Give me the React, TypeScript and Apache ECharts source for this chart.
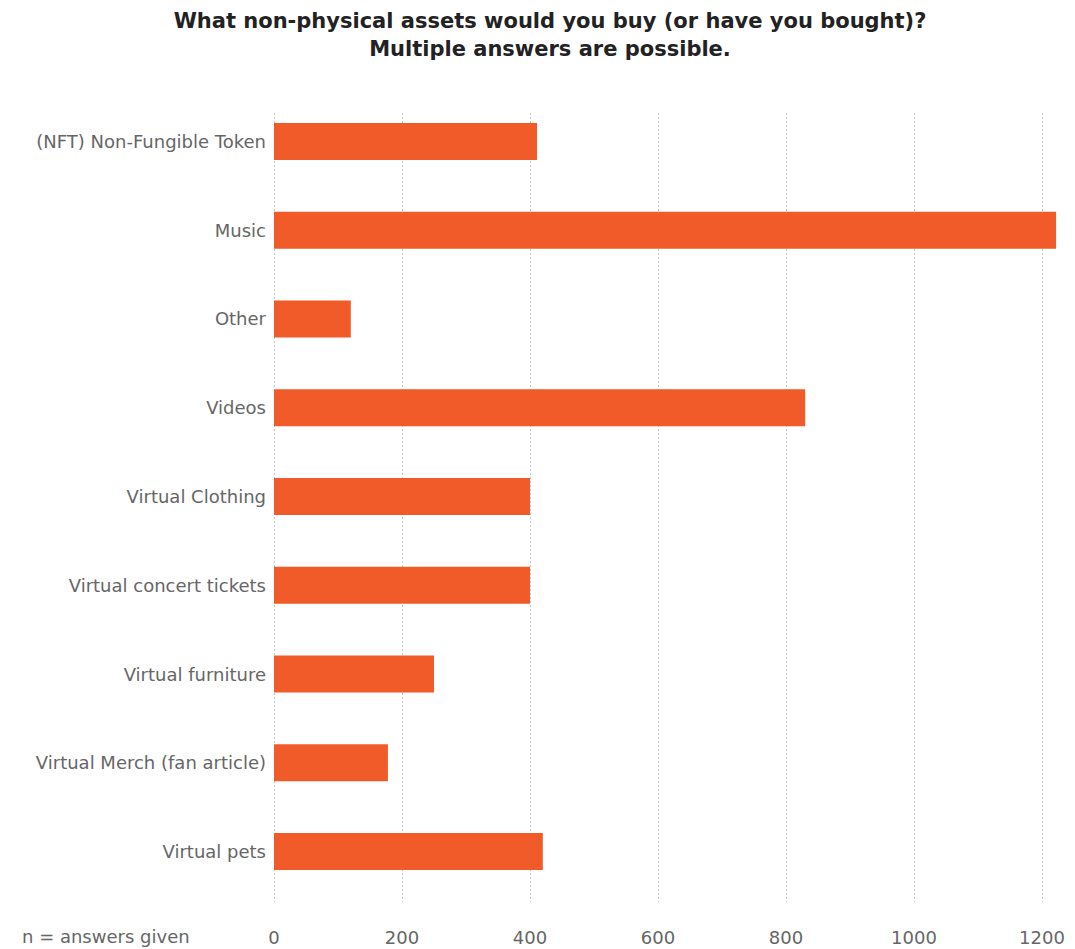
import React, { useEffect, useRef } from "react";
import * as echarts from "echarts";

const categories = [
  "(NFT) Non-Fungible Token",
  "Music",
  "Other",
  "Videos",
  "Virtual Clothing",
  "Virtual concert tickets",
  "Virtual furniture",
  "Virtual Merch (fan article)",
  "Virtual pets",
];
const values = [411, 1222, 120, 830, 400, 400, 250, 178, 420];
const xMin = 0;
const xMax = 1200;
const xInterval = 200;

const FONT = "'DejaVu Sans', 'Noto Sans', sans-serif";

export default function App() {
  const ref = useRef<HTMLDivElement>(null);
  useEffect(() => {
    if (!ref.current) return;
    const chart = echarts.init(ref.current, undefined, { renderer: "svg" });
    chart.setOption({
      animation: false,
      backgroundColor: "#ffffff",
      title: {
        text: "What non-physical assets would you buy (or have you bought)?\nMultiple answers are possible.",
        left: 545,
        textAlign: "center",
        top: 2,
        textStyle: {
          fontFamily: FONT,
          fontWeight: "bold",
          fontSize: 21,
          lineHeight: 28,
          color: "#222222",
        },
      },
      graphic: [
        {
          type: "text",
          left: 22,
          top: 927,
          style: {
            text: "n = answers given",
            fontFamily: FONT,
            fontSize: 18,
            fill: "#666666",
          },
        },
      ],
      grid: [
        { left: 274, right: 33, top: 97, bottom: 53, containLabel: false },
        { left: 274, right: 33, top: 113, bottom: 47, containLabel: false },
      ],
      xAxis: [
        {
          type: "value",
          gridIndex: 0,
          min: xMin,
          max: xMax,
          interval: xInterval,
          axisLine: { show: false },
          axisTick: { show: false },
          splitLine: { show: false },
          axisLabel: { show: false },
        },
        {
          type: "value",
          gridIndex: 1,
          min: xMin,
          max: xMax,
          interval: xInterval,
          axisLine: { show: false },
          axisTick: { show: false },
          splitLine: {
            show: true,
            lineStyle: { color: "#c4c4c4", type: [2, 2], width: 1 },
          },
          axisLabel: {
            show: true,
            margin: 26,
            fontFamily: FONT,
            fontSize: 18,
            color: "#666666",
            formatter: (v: number) => String(v),
          },
        },
      ],
      yAxis: [
        {
          type: "category",
          gridIndex: 0,
          data: categories,
          inverse: true,
          axisLine: { show: false },
          axisTick: { show: false },
          splitLine: { show: false },
          axisLabel: {
            margin: 8,
            fontFamily: FONT,
            fontSize: 18,
            color: "#666666",
          },
        },
        {
          type: "category",
          gridIndex: 1,
          data: categories,
          inverse: true,
          show: false,
        },
      ],
      series: [
        {
          type: "bar",
          xAxisIndex: 0,
          yAxisIndex: 0,
          data: values,
          barWidth: 37,
          clip: false,
          itemStyle: { color: "#f15a29" },
          z: 3,
        },
      ],
    });
    return () => chart.dispose();
  }, []);
  return (
    <div
      ref={ref}
      style={{ position: "fixed", left: 0, top: 0, width: 1075, height: 949 }}
    />
  );
}
